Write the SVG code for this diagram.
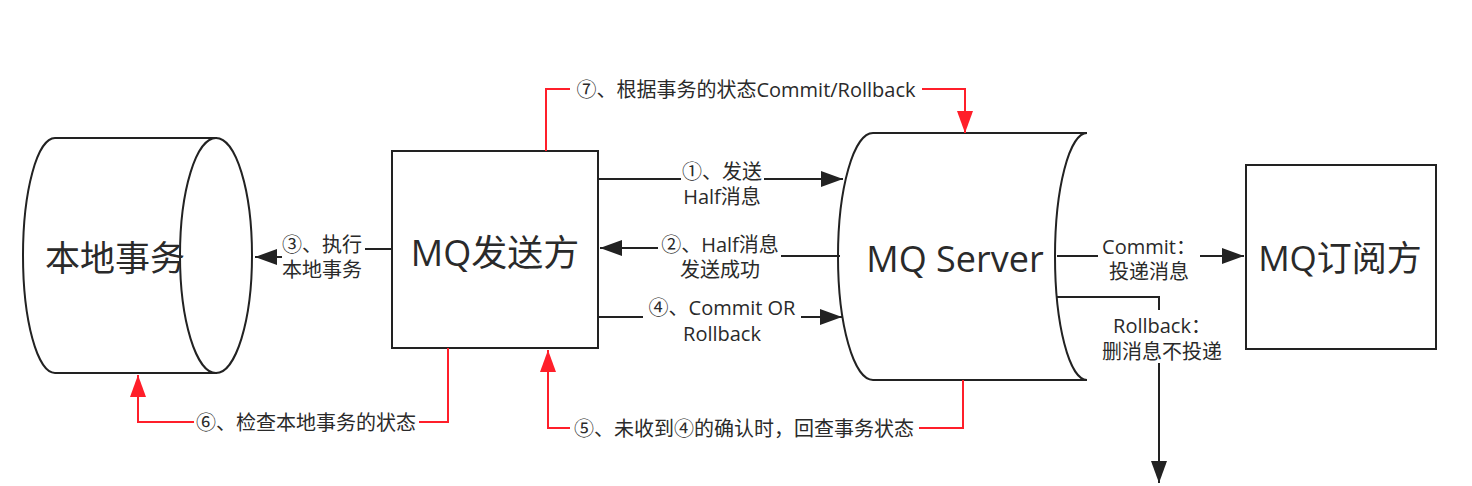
<svg xmlns="http://www.w3.org/2000/svg" width="1472" height="486" viewBox="0 0 1472 486">
<defs>
<style>
.shape{fill:#fff;stroke:#222;stroke-width:2}
.ln{fill:none;stroke:#222;stroke-width:2}
.rd{fill:none;stroke:#ff1f2a;stroke-width:2}
.big{font-family:"Open Sans","Noto Sans CJK SC",sans-serif;font-size:35px;fill:#2a2a2a;text-anchor:middle;dominant-baseline:central}
.lb{font-family:"Open Sans","Noto Sans CJK SC",sans-serif;font-size:20px;fill:#2a2a2a;text-anchor:middle;dominant-baseline:central}
</style>
<marker id="ah" viewBox="0 0 22 16" refX="22" refY="8" markerWidth="22" markerHeight="16" markerUnits="userSpaceOnUse" orient="auto">
<path d="M0,0 L22,8 L0,16 Z" fill="#222"/>
</marker>
<marker id="ahr" viewBox="0 0 22 16" refX="22" refY="8" markerWidth="22" markerHeight="16" markerUnits="userSpaceOnUse" orient="auto">
<path d="M0,0 L22,8 L0,16 Z" fill="#ff1f2a"/>
</marker>
</defs>

<g id="local-tx">
<path class="shape" d="M216,138 H55 A32,117.5 0 0 0 55,373 H216 Z"/>
<ellipse class="shape" cx="216" cy="255.5" rx="36" ry="117.5"/>
<text class="big" x="115" y="257">本地事务</text>
</g>

<g id="mq-sender">
<rect class="shape" x="392" y="151" width="206" height="197"/>
<text class="big" x="495" y="252" style="font-size:36px">MQ发送方</text>
</g>

<g id="mq-server">
<path class="shape" d="M1087,133 H873 A35,123.5 0 0 0 873,380 H1087 A32,123.5 0 0 1 1087,133 Z"/>
<text class="big" x="955" y="258" style="font-size:36px">MQ Server</text>
</g>

<g id="mq-subscriber">
<rect class="shape" x="1246" y="165" width="190" height="184"/>
<text class="big" x="1340" y="257">MQ订阅方</text>
</g>

<g id="connectors">
<path class="ln" d="M598,179 H681"/>
<path class="ln" d="M764,179 H843" marker-end="url(#ah)"/>
<text class="lb" y="171"><tspan x="722">①、发送</tspan><tspan x="722" dy="25">Half消息</tspan></text>

<path class="ln" d="M840,256 H781"/>
<path class="ln" d="M658,248 H600" marker-end="url(#ah)"/>
<text class="lb" y="244"><tspan x="720">②、Half消息</tspan><tspan x="720" dy="25">发送成功</tspan></text>

<path class="ln" d="M598,317 H643"/>
<path class="ln" d="M801,317 H842" marker-end="url(#ah)"/>
<text class="lb" y="307"><tspan x="722">④、Commit OR</tspan><tspan x="722" dy="26">Rollback</tspan></text>

<path class="ln" d="M392,249 H365"/>
<path class="ln" d="M282,257 H255" marker-end="url(#ah)"/>
<text class="lb" y="244"><tspan x="322">③、执行</tspan><tspan x="322" dy="25">本地事务</tspan></text>

<path class="ln" d="M1057,256 H1098"/>
<path class="ln" d="M1200,256 H1244" marker-end="url(#ah)"/>
<text class="lb" y="246"><tspan x="1149">Commit：</tspan><tspan x="1149" dy="25">投递消息</tspan></text>

<path class="ln" d="M1057,297 H1159 V310"/>
<path class="ln" d="M1159,363 V483" marker-end="url(#ah)"/>
<text class="lb" y="325"><tspan x="1162">Rollback：</tspan><tspan x="1162" dy="26">删消息不投递</tspan></text>

<path class="rd" d="M546,151 V89 H570"/>
<path class="rd" d="M922,89 H965 V133" marker-end="url(#ahr)"/>
<text class="lb" x="746" y="89">⑦、根据事务的状态Commit/Rollback</text>

<path class="rd" d="M448,348 V422 H419"/>
<path class="rd" d="M194,422 H138 V375" marker-end="url(#ahr)"/>
<text class="lb" x="306" y="422">⑥、检查本地事务的状态</text>

<path class="rd" d="M963,380 V428 H919"/>
<path class="rd" d="M570,428 H548 V350" marker-end="url(#ahr)"/>
<text class="lb" x="744" y="428">⑤、未收到④的确认时，回查事务状态</text>
</g>
</svg>
